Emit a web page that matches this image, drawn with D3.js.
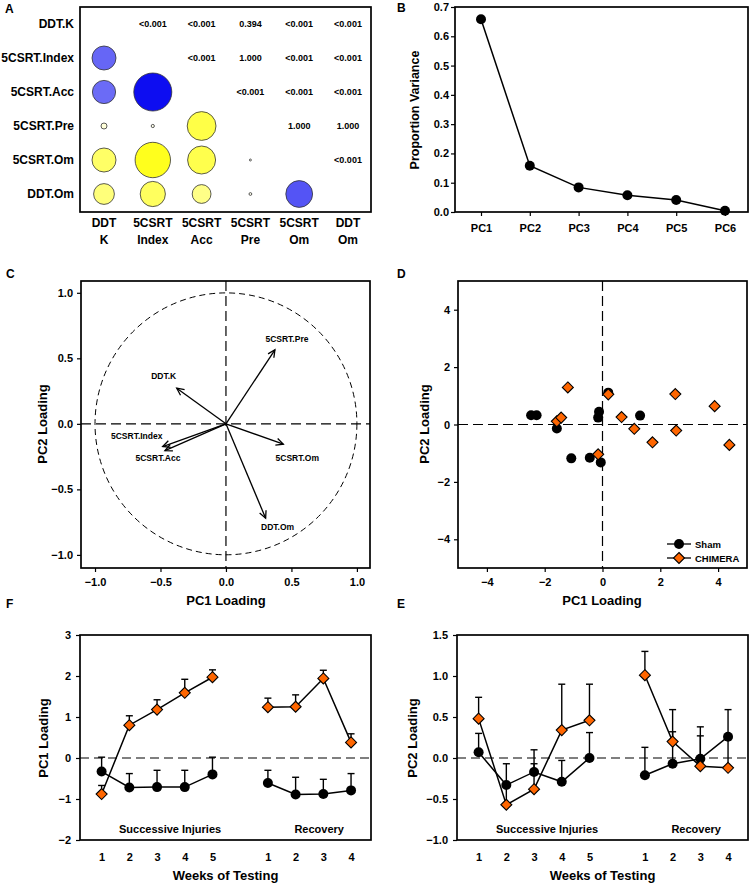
<!DOCTYPE html>
<html><head><meta charset="utf-8">
<script src="https://cdn.jsdelivr.net/npm/d3@7"></script>
<style>
body{margin:0;background:#fff}
text{font-family:"Liberation Sans",Arial,Helvetica,sans-serif;font-weight:bold;fill:#000}
</style>
</head><body>
<script>
// ---------------- DATA ----------------
// Panel A: correlation matrix (lower triangle values, upper triangle p-values)
const corrVars = ["DDT.K","5CSRT.Index","5CSRT.Acc","5CSRT.Pre","5CSRT.Om","DDT.Om"];
const corrColTop = ["DDT","5CSRT","5CSRT","5CSRT","5CSRT","DDT"];
const corrColBottom = ["K","Index","Acc","Pre","Om","Om"];
const corrLower = [
  ["5CSRT.Index","DDT.K",0.60],
  ["5CSRT.Acc","DDT.K",0.58],
  ["5CSRT.Acc","5CSRT.Index",0.95],
  ["5CSRT.Pre","DDT.K",-0.15],
  ["5CSRT.Pre","5CSRT.Index",-0.08],
  ["5CSRT.Pre","5CSRT.Acc",-0.72],
  ["5CSRT.Om","DDT.K",-0.60],
  ["5CSRT.Om","5CSRT.Index",-0.885],
  ["5CSRT.Om","5CSRT.Acc",-0.70],
  ["5CSRT.Om","5CSRT.Pre",-0.05],
  ["DDT.Om","DDT.K",-0.52],
  ["DDT.Om","5CSRT.Index",-0.63],
  ["DDT.Om","5CSRT.Acc",-0.47],
  ["DDT.Om","5CSRT.Pre",-0.07],
  ["DDT.Om","5CSRT.Om",0.67]
];
const corrPvals = [
  ["DDT.K","5CSRT.Index","<0.001"],["DDT.K","5CSRT.Acc","<0.001"],["DDT.K","5CSRT.Pre","0.394"],
  ["DDT.K","5CSRT.Om","<0.001"],["DDT.K","DDT.Om","<0.001"],
  ["5CSRT.Index","5CSRT.Acc","<0.001"],["5CSRT.Index","5CSRT.Pre","1.000"],
  ["5CSRT.Index","5CSRT.Om","<0.001"],["5CSRT.Index","DDT.Om","<0.001"],
  ["5CSRT.Acc","5CSRT.Pre","<0.001"],["5CSRT.Acc","5CSRT.Om","<0.001"],["5CSRT.Acc","DDT.Om","<0.001"],
  ["5CSRT.Pre","5CSRT.Om","1.000"],["5CSRT.Pre","DDT.Om","1.000"],
  ["5CSRT.Om","DDT.Om","<0.001"]
];

// Panel B: scree
const pcs = ["PC1","PC2","PC3","PC4","PC5","PC6"];
const propVar = [0.658,0.158,0.084,0.057,0.041,0.004];
const propTicks = [0,0.1,0.2,0.3,0.4,0.5,0.6,0.7];

// Panel C: loadings
const loadVars = ["DDT.K","5CSRT.Index","5CSRT.Acc","5CSRT.Pre","5CSRT.Om","DDT.Om"];
const loadPC1 = [-0.376,-0.483,-0.466,0.374,0.438,0.303];
const loadPC2 = [0.272,-0.173,-0.204,0.565,-0.155,-0.720];
const loadTicks = [-1.0,-0.5,0.0,0.5,1.0];

// Panel D: scores
const shamPC1 = [-2.47,-2.28,-1.58,-1.08,-0.44,-0.12,-0.15,-0.06,0.20,1.30];
const shamPC2 = [0.32,0.32,-0.14,-1.18,-1.16,0.44,0.24,-1.32,1.11,0.31];
const chimPC1 = [-1.20,-1.58,-1.43,-0.15,0.20,0.66,1.10,1.73,2.52,2.55,3.88,4.39];
const chimPC2 = [1.29,0.11,0.24,-1.04,1.05,0.26,-0.15,-0.62,1.06,-0.21,0.64,-0.71];
const scoreTicks = [-4,-2,0,2,4];
const groups = ["Sham","CHIMERA"];

// Panels F & E: weekly means (+SEM)
const weekLabels = ["1","2","3","4","5","1","2","3","4"];
const weekPos = [1,2,3,4,5,7,8,9,10];
const phaseOf = [0,0,0,0,0,1,1,1,1];
const phaseNames = ["Successive Injuries","Recovery"];
const shamPC1Mean = [-0.33,-0.72,-0.71,-0.71,-0.40,-0.61,-0.89,-0.88,-0.79];
const shamPC1Err  = [0.35,0.34,0.41,0.41,0.42,0.31,0.42,0.36,0.41];
const chimPC1Mean = [-0.88,0.80,1.18,1.59,1.97,1.24,1.25,1.94,0.38];
const chimPC1Err  = [0.21,0.23,0.24,0.33,0.18,0.22,0.29,0.20,0.21];
const shamPC2Mean = [0.07,-0.33,-0.17,-0.29,0.00,-0.21,-0.07,-0.01,0.26];
const shamPC2Err  = [0.23,0.26,0.10,0.26,0.31,0.34,0.39,0.28,0.33];
const chimPC2Mean = [0.48,-0.57,-0.38,0.34,0.46,1.01,0.20,-0.10,-0.12];
const chimPC2Err  = [0.26,0.24,0.48,0.56,0.44,0.29,0.39,0.48,0.38];
const pc1Ticks = [-2,-1,0,1,2,3];
const pc2Ticks = [-1.0,-0.5,0.0,0.5,1.0,1.5];

// ---------------- STYLE ----------------
const ORANGE = "#ff6600";
const BOX_W = 1.7;
const TICK_FS = 11;

const svg = d3.select("body").append("svg").attr("width",754).attr("height",885);

function box(x0,y0,x1,y1){
  svg.append("rect").attr("x",x0).attr("y",y0).attr("width",x1-x0).attr("height",y1-y0)
    .attr("fill","none").attr("stroke","#000").attr("stroke-width",BOX_W);
}
function letter(t,x,y){
  svg.append("text").attr("x",x).attr("y",y).attr("font-size",12).text(t);
}
function styleAxis(g,fs){
  g.select(".domain").remove();
  g.selectAll(".tick line").attr("stroke","#000").attr("stroke-width",1.2);
  g.selectAll("text").attr("font-size",fs).attr("font-family",'"Liberation Sans",Arial,sans-serif').attr("font-weight","bold");
}
function yTitle(t,x,y,fs){
  svg.append("text").attr("transform",`translate(${x},${y}) rotate(-90)`).attr("text-anchor","middle")
    .attr("dominant-baseline","central").attr("font-size",fs).text(t);
}
function xTitle(t,x,y,fs){
  svg.append("text").attr("x",x).attr("y",y).attr("text-anchor","middle")
    .attr("dominant-baseline","central").attr("font-size",fs).text(t);
}
function diamond(sel,cx,cy,s){
  sel.append("path").attr("d",`M${cx},${cy-s}L${cx+s},${cy}L${cx},${cy+s}L${cx-s},${cy}Z`)
    .attr("fill",ORANGE).attr("stroke","#000").attr("stroke-width",1.1);
}
function dot(sel,cx,cy,r){
  sel.append("circle").attr("cx",cx).attr("cy",cy).attr("r",r).attr("fill","#000");
}

// ---------------- PANEL A ----------------
(function(){
  const cx = d3.scalePoint().domain(corrVars).range([104,348]);
  const cy = d3.scalePoint().domain(corrVars).range([24,194]);
  const rs = d3.scaleLinear().domain([0,1]).range([0,20]);
  const blue = d3.interpolateRgb("#ffffff","#0000f0");
  const yel = d3.interpolateRgb("#ffffff","#ffff00");
  box(80,7,371,212);
  letter("A",5,13);
  svg.append("g").selectAll("circle").data(corrLower).join("circle")
    .attr("cx",d=>cx(d[1])).attr("cy",d=>cy(d[0])).attr("r",d=>rs(Math.abs(d[2])))
    .attr("fill",d=>d[2]>0?blue(Math.abs(d[2])):yel(Math.abs(d[2])))
    .attr("stroke","#333").attr("stroke-width",0.8);
  svg.append("g").selectAll("text").data(corrPvals).join("text")
    .attr("x",d=>cx(d[1])).attr("y",d=>cy(d[0])).attr("text-anchor","middle")
    .attr("dominant-baseline","central").attr("font-size",9).text(d=>d[2]);
  svg.append("g").selectAll("text").data(corrVars).join("text")
    .attr("x",74).attr("y",d=>cy(d)).attr("text-anchor","end").attr("dominant-baseline","central")
    .attr("font-size",12).text(d=>d);
  svg.append("g").selectAll("text").data(corrVars).join("text")
    .attr("x",d=>cx(d)).attr("y",223).attr("text-anchor","middle").attr("dominant-baseline","central")
    .attr("font-size",12).text((d,i)=>corrColTop[i]);
  svg.append("g").selectAll("text").data(corrVars).join("text")
    .attr("x",d=>cx(d)).attr("y",240).attr("text-anchor","middle").attr("dominant-baseline","central")
    .attr("font-size",12).text((d,i)=>corrColBottom[i]);
})();

// ---------------- PANEL B ----------------
(function(){
  const x = d3.scalePoint().domain(pcs).range([481,725]);
  const y = d3.scaleLinear().domain([0,0.7]).range([212,7]);
  letter("B",397,12);
  svg.append("g").attr("transform","translate(455,0)")
    .call(d3.axisLeft(y).tickValues(propTicks).tickFormat(d3.format(".1f")).tickSize(4).tickPadding(2))
    .call(g=>styleAxis(g,TICK_FS));
  svg.append("g").attr("transform","translate(0,212)")
    .call(d3.axisBottom(x).tickSize(4).tickPadding(8)).call(g=>styleAxis(g,TICK_FS));
  svg.append("path").datum(propVar)
    .attr("d",d3.line().x((d,i)=>x(pcs[i])).y(d=>y(d)))
    .attr("fill","none").attr("stroke","#000").attr("stroke-width",1.5);
  const g = svg.append("g");
  propVar.forEach((v,i)=>dot(g,x(pcs[i]),y(v),5));
  box(455,7,748,212);
  yTitle("Proportion Variance",415,110,12.5);
})();

// ---------------- PANEL C ----------------
(function(){
  const x = d3.scaleLinear().domain([-1.107,1.1]).range([81,370]);
  const y = d3.scaleLinear().domain([-1.10,1.09]).range([568,281]);
  letter("C",6,278);
  svg.append("g").attr("transform","translate(81,0)")
    .call(d3.axisLeft(y).tickValues(loadTicks).tickFormat(d3.format(".1f")).tickSize(4).tickPadding(4))
    .call(g=>styleAxis(g,TICK_FS));
  svg.append("g").attr("transform","translate(0,568)")
    .call(d3.axisBottom(x).tickValues(loadTicks).tickFormat(d3.format(".1f")).tickSize(4).tickPadding(6))
    .call(g=>styleAxis(g,TICK_FS));
  const r = x(1)-x(0);
  svg.append("circle").attr("cx",x(0)).attr("cy",y(0)).attr("r",r).attr("fill","none")
    .attr("stroke","#000").attr("stroke-width",1).attr("stroke-dasharray","6,4");
  svg.append("line").attr("x1",x(0)).attr("x2",x(0)).attr("y1",281).attr("y2",568)
    .attr("stroke","#000").attr("stroke-width",1.2).attr("stroke-dasharray","10,5");
  svg.append("line").attr("x1",81).attr("x2",370).attr("y1",y(0)).attr("y2",y(0))
    .attr("stroke","#000").attr("stroke-width",1.2).attr("stroke-dasharray","10,5");
  const labelOff = [[-13,-12],[-26,-11],[-7,7],[12,-11],[14,14],[12,9]];
  const g = svg.append("g").attr("stroke","#000").attr("stroke-width",1.3).attr("fill","none");
  loadVars.forEach((v,i)=>{
    const x0=x(0), y0=y(0), x1=x(loadPC1[i]), y1=y(loadPC2[i]);
    g.append("line").attr("x1",x0).attr("y1",y0).attr("x2",x1).attr("y2",y1);
    const a = Math.atan2(y1-y0,x1-x0), L=8, h=0.45;
    g.append("path").attr("d",
      `M${x1-L*Math.cos(a-h)},${y1-L*Math.sin(a-h)}L${x1},${y1}L${x1-L*Math.cos(a+h)},${y1-L*Math.sin(a+h)}`);
    svg.append("text").attr("x",x1+labelOff[i][0]).attr("y",y1+labelOff[i][1])
      .attr("text-anchor","middle").attr("dominant-baseline","central").attr("font-size",8.5).text(v);
  });
  box(81,281,370,568);
  yTitle("PC2 Loading",42,424,13);
  xTitle("PC1 Loading",226,600,13);
})();

// ---------------- PANEL D ----------------
(function(){
  const x = d3.scaleLinear().domain([-5,5]).range([458,747]);
  const y = d3.scaleLinear().domain([-5,5]).range([568,281]);
  letter("D",397,278);
  svg.append("g").attr("transform","translate(458,0)")
    .call(d3.axisLeft(y).tickValues(scoreTicks).tickSize(4).tickPadding(4)).call(g=>styleAxis(g,TICK_FS));
  svg.append("g").attr("transform","translate(0,568)")
    .call(d3.axisBottom(x).tickValues(scoreTicks).tickSize(4).tickPadding(6)).call(g=>styleAxis(g,TICK_FS));
  svg.append("line").attr("x1",x(0)).attr("x2",x(0)).attr("y1",281).attr("y2",568)
    .attr("stroke","#000").attr("stroke-width",1.2).attr("stroke-dasharray","10,5");
  svg.append("line").attr("x1",458).attr("x2",747).attr("y1",y(0)).attr("y2",y(0))
    .attr("stroke","#000").attr("stroke-width",1.2).attr("stroke-dasharray","10,5");
  const g = svg.append("g");
  shamPC1.forEach((v,i)=>dot(g,x(v),y(shamPC2[i]),5));
  chimPC1.forEach((v,i)=>diamond(g,x(v),y(chimPC2[i]),5.5));
  // legend
  const lg = svg.append("g");
  [544,558].forEach((ly,k)=>{
    lg.append("line").attr("x1",667).attr("x2",691).attr("y1",ly).attr("y2",ly).attr("stroke","#000").attr("stroke-width",1.3);
    if(k===0) dot(lg,679,ly,5); else diamond(lg,679,ly,5.5);
    lg.append("text").attr("x",695).attr("y",ly).attr("dominant-baseline","central").attr("font-size",9.5).text(groups[k]);
  });
  box(458,281,747,568);
  yTitle("PC2 Loading",424,424,13);
  xTitle("PC1 Loading",602,600,13);
})();

// ---------------- PANELS F & E ----------------
function weekPanel(x0,x1,domainY,ticks,fmt,shamM,shamE,chimM,chimE,titleY,titleX,letterT,lx){
  const x = d3.scaleLinear().domain([0.22,10.72]).range([x0,x1]);
  const y = d3.scaleLinear().domain(domainY).range([840,635]);
  letter(letterT,lx,608);
  svg.append("g").attr("transform",`translate(${x0},0)`)
    .call(d3.axisLeft(y).tickValues(ticks).tickFormat(fmt).tickSize(4).tickPadding(5)).call(g=>styleAxis(g,TICK_FS));
  svg.append("g").attr("transform","translate(0,840)")
    .call(d3.axisBottom(x).tickValues(weekPos).tickFormat((d,i)=>weekLabels[i]).tickSize(0).tickPadding(13))
    .call(g=>styleAxis(g,TICK_FS));
  svg.append("line").attr("x1",x0).attr("x2",x1).attr("y1",y(0)).attr("y2",y(0))
    .attr("stroke","#000").attr("stroke-width",1.2).attr("stroke-dasharray","9,5");
  const g = svg.append("g");
  function series(M,E){
    // error bars (upper only)
    M.forEach((m,i)=>{
      const px=x(weekPos[i]);
      g.append("line").attr("x1",px).attr("x2",px).attr("y1",y(m)).attr("y2",y(m+E[i])).attr("stroke","#000").attr("stroke-width",1.4);
      g.append("line").attr("x1",px-3.5).attr("x2",px+3.5).attr("y1",y(m+E[i])).attr("y2",y(m+E[i])).attr("stroke","#000").attr("stroke-width",1.4);
    });
    [0,1].forEach(ph=>{
      const idx = d3.range(M.length).filter(i=>phaseOf[i]===ph);
      g.append("path").datum(idx).attr("d",d3.line().x(i=>x(weekPos[i])).y(i=>y(M[i])))
        .attr("fill","none").attr("stroke","#000").attr("stroke-width",1.5);
    });
  }
  series(shamM,shamE);
  series(chimM,chimE);
  shamM.forEach((m,i)=>dot(g,x(weekPos[i]),y(m),5));
  chimM.forEach((m,i)=>diamond(g,x(weekPos[i]),y(m),5.5));
  const labelAt = [3.47,8.85];
  phaseNames.forEach((t,k)=>{
    svg.append("text").attr("x",x(labelAt[k])).attr("y",829).attr("text-anchor","middle")
      .attr("dominant-baseline","central").attr("font-size",11).text(t);
  });
  box(x0,635,x1,840);
  yTitle(titleY,titleX,738,13);
  xTitle("Weeks of Testing",(x0+x1)/2,875,13);
}
weekPanel(80,371,[-2,3],pc1Ticks,d3.format("d"),shamPC1Mean,shamPC1Err,chimPC1Mean,chimPC1Err,"PC1 Loading",43,"F",6);
weekPanel(457,748,[-1,1.5],pc2Ticks,d3.format(".1f"),shamPC2Mean,shamPC2Err,chimPC2Mean,chimPC2Err,"PC2 Loading",412,"E",397);
</script>
</body></html>
